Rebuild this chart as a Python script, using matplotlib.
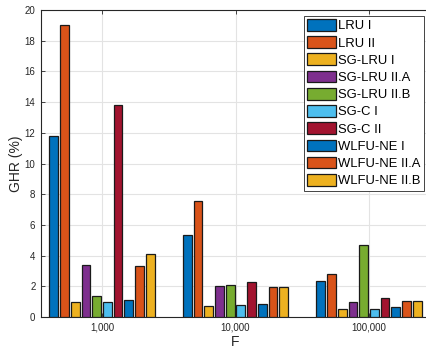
import matplotlib
matplotlib.use("Agg")
import matplotlib.pyplot as plt
import numpy as np

plt.rcParams['font.family'] = ['Liberation Sans', 'DejaVu Sans']

categories = ["1,000", "10,000", "100,000"]
series_names = ["LRU I", "LRU II", "SG-LRU I", "SG-LRU II.A", "SG-LRU II.B",
                "SG-C I", "SG-C II", "WLFU-NE I", "WLFU-NE II.A", "WLFU-NE II.B"]
lru_1 = [11.8, 5.35, 2.35]
lru_2 = [19.0, 7.55, 2.82]
sg_lru_1 = [1.0, 0.7, 0.5]
sg_lru_2a = [3.4, 2.02, 0.98]
sg_lru_2b = [1.4, 2.1, 4.71]
sg_c_1 = [1.0, 0.78, 0.54]
sg_c_2 = [13.8, 2.3, 1.22]
wlfu_1 = [1.08, 0.83, 0.67]
wlfu_2a = [3.3, 1.97, 1.04]
wlfu_2b = [4.1, 1.95, 1.06]
values = [lru_1, lru_2, sg_lru_1, sg_lru_2a, sg_lru_2b, sg_c_1, sg_c_2, wlfu_1, wlfu_2a, wlfu_2b]

colors = ["#0072BD", "#D95319", "#EDB120", "#7E2F8E", "#77AC30",
          "#4DBEEE", "#A2142F", "#0072BD", "#D95319", "#EDB120"]

W, H = 426, 351
fig = plt.figure(figsize=(W / 100, H / 100), dpi=100)
left, right, top, bottom = 41, 430, 10, 317
ax = fig.add_axes([left / W, 1 - bottom / H, (right - left) / W, (bottom - top) / H])

x = np.arange(1, len(categories) + 1)
n = len(values)
pitch = 0.0801
width = 0.066
for i, (name, vals, c) in enumerate(zip(series_names, values, colors)):
    ax.bar(x + (i - (n - 1) / 2) * pitch, vals, width=width, color=c,
           edgecolor="#1a1a1a", linewidth=0.9, label=name, zorder=3)

ax.set_xlim(0.543, 3.457)
ax.set_ylim(0, 20)
ax.set_yticks(np.arange(0, 21, 2))
ax.set_xticks(x)
ax.set_xticklabels(categories)

axc = "#262626"
for s in ax.spines.values():
    s.set_color(axc)
    s.set_linewidth(0.8)
ax.tick_params(direction="in", length=3, width=0.6, color=axc, labelcolor=axc,
               labelsize=7, top=True, right=True, pad=4)
ax.grid(True, color="#e3e3e3", linewidth=0.8, zorder=0)
ax.set_axisbelow(True)

ax.set_ylabel("GHR (%)", fontsize=10, color=axc, labelpad=1)
ax.set_xlabel("F", fontsize=10, color=axc, labelpad=1.5)

leg = ax.legend(loc="upper right", bbox_to_anchor=(424 / W, 1 - 15.7 / H),
                bbox_transform=fig.transFigure, borderaxespad=0,
                fontsize=9.4, frameon=True, fancybox=False, framealpha=1,
                edgecolor=axc, handlelength=2.2, handleheight=1.0,
                labelspacing=0.3, handletextpad=0.2, borderpad=0.25)
leg.get_frame().set_linewidth(0.6)
for t in leg.get_texts():
    t.set_color("#000000")

fig.savefig("out.png", dpi=100)
